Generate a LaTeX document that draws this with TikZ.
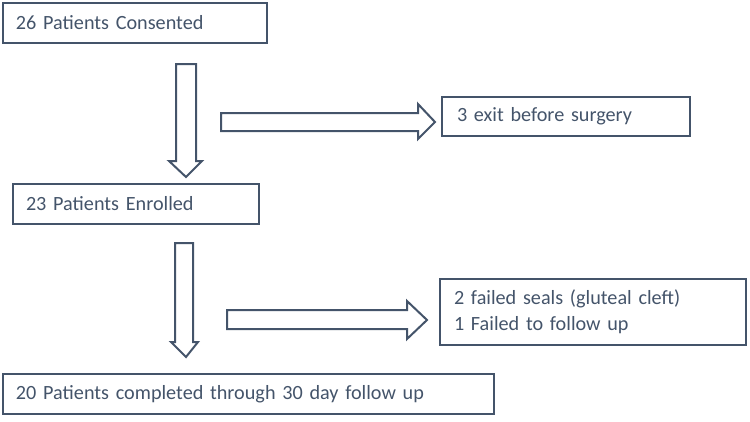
\documentclass[tikz,border=0pt]{standalone}
\usepackage{fontspec}
\setmainfont{Carlito}
\definecolor{slate}{HTML}{44546A}
\begin{document}
\begin{tikzpicture}[x=1pt,y=-1pt,
  box/.style={draw=slate,line width=2pt,anchor=north west,inner xsep=13pt,inner ysep=0pt,align=left,text=slate,font=\fontsize{20.2}{26}\selectfont},
  blockarrow/.style={draw=slate,line width=2pt,fill=white,line join=miter}]
\useasboundingbox (0,0) rectangle (750,421);
\node[box,text width=264-26,minimum height=40] (c1) at (2,2) {26 Patients Consented};
\node[box,minimum height=39,inner xsep=15pt,text width=248-30] (c2) at (441,96) {3 exit before surgery};
\node[box,text width=246-26,minimum height=40] (c3) at (12,183) {23 Patients Enrolled};
\node[box,minimum height=66,inner xsep=14pt,text width=306-28] (c4) at (439,278) {2 failed seals (gluteal cleft)\\1 Failed to follow up};
\node[box,text width=491-26,minimum height=40] (c5) at (2,373) {20 Patients completed through 30 day follow up};
% down arrow 1
\draw[blockarrow] (176,64) -- (196,64) -- (196,161) -- (202,161) -- (186,177) -- (169,161) -- (176,161) -- cycle;
% right arrow 1
\draw[blockarrow] (221,113) -- (418,113) -- (418,104) -- (435,122) -- (418,139) -- (418,131) -- (221,131) -- cycle;
% down arrow 2
\draw[blockarrow] (175,243) -- (193,243) -- (193,342) -- (198,342) -- (186,357) -- (171,342) -- (175,342) -- cycle;
% right arrow 2
\draw[blockarrow] (227,310) -- (407,310) -- (407,301) -- (427,320) -- (407,339) -- (407,329) -- (227,329) -- cycle;
\end{tikzpicture}
\end{document}
